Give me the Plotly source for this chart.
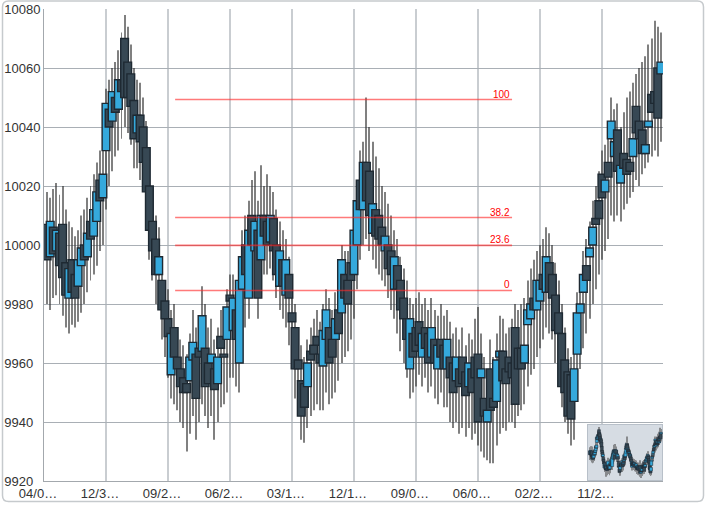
import plotly.graph_objects as go

# ---------------- data ----------------
opens = [10007, 9996, 10006, 9998, 10004, 10007, 9994, 9982, 9995, 9990,
         9986, 9993, 10000, 9996, 10008, 10003, 10008, 10022, 10016, 10032,
         10046, 10042, 10050, 10046, 10056, 10070, 10062, 10058, 10049, 10038,
         10044, 10040, 10033, 10020, 10008, 10002, 9990, 9988, 9981, 9975,
         9956, 9972, 9962, 9958, 9955, 9953, 9954, 9961, 9963, 9965,
         9964, 9965, 9960, 9960, 9958, 9953, 9969, 9963, 9968, 9983,
         9971, 9978, 9960, 9985, 10000, 9982, 10010, 9998, 10005, 9995,
         10010, 10008, 10001, 10009, 10000, 9986, 9995, 9983, 9990, 9977,
         9972, 9961, 9954, 9953, 9952, 9964, 9966, 9969, 9963, 9959,
         9968, 9972, 9968, 9968, 9978, 9977, 9990, 9988, 9994, 9990,
         10000, 10022, 10012, 10028, 10025, 10004, 10012, 10010, 10006, 9998,
         10000, 9998, 9985, 9993, 9988, 9982, 9975, 9958, 9970, 9972,
         9974, 9962, 9972, 9970, 9962, 9968, 9958, 9968, 9966, 9958,
         9962, 9960, 9954, 9958, 9962, 9957, 9952, 9958, 9962, 9963,
         9955, 9948, 9940, 9958, 9948, 9947, 9962, 9964, 9958, 9962,
         9960, 9972, 9965, 9965, 9960, 9973, 9975, 9982, 9978, 9981,
         9990, 9984, 9994, 9990, 9983, 9977, 9970, 9961, 9957, 9956,
         9947, 9963, 9977, 9984, 9993, 9996, 10000, 10009, 10015, 10024,
         10018, 10028, 10036, 10030, 10039, 10021, 10031, 10029, 10028, 10030,
         10047, 10042, 10039, 10031, 10040, 10051, 10052, 10060, 10058]
highs = [10018, 10016, 10019, 10021, 10017, 10020, 10012, 10008, 10006, 10003,
         10005, 10010, 10012, 10016, 10020, 10024, 10028, 10032, 10036, 10053,
         10056, 10060, 10062, 10066, 10072, 10078, 10074, 10068, 10060, 10056,
         10055, 10050, 10042, 10028, 10015, 10010, 10006, 9995, 9988, 9985,
         9978, 9980, 9972, 9968, 9966, 9963, 9970, 9978, 9972, 9975,
         9986, 9980, 9972, 9975, 9968, 9972, 9978, 9976, 9985, 9990,
         9990, 9988, 9995, 10005, 10010, 10015, 10022, 10025, 10015, 10027,
         10020, 10024, 10020, 10018, 10012, 10008, 10005, 10002, 9996, 9985,
         9980, 9972, 9966, 9962, 9968, 9972, 9975, 9978, 9974, 9980,
         9985, 9982, 9978, 9984, 9986, 10000, 9998, 9998, 10002, 10012,
         10022, 10032, 10035, 10050, 10040, 10035, 10030, 10026, 10020, 10018,
         10014, 10010, 10005, 10002, 9996, 9992, 9988, 9982, 9980, 9982,
         9984, 9980, 9982, 9978, 9982, 9978, 9976, 9980, 9976, 9978,
         9974, 9970, 9972, 9968, 9972, 9966, 9970, 9968, 9975, 9979,
         9970, 9962, 9958, 9968, 9962, 9970, 9976, 9975, 9970, 9972,
         9975, 9980, 9978, 9980, 9982, 9988, 9992, 9995, 9998, 10000,
         10002, 10006, 10004, 10000, 9994, 9988, 9980, 9972, 9965, 9962,
         9966, 9984, 9990, 9998, 10002, 10008, 10015, 10020, 10025, 10032,
         10034, 10038, 10050, 10046, 10048, 10040, 10045, 10050, 10052, 10055,
         10058, 10060, 10062, 10064, 10068, 10070, 10076, 10074, 10072]
lows = [9980, 9978, 9982, 9983, 9980, 9976, 9972, 9970, 9973, 9972,
        9974, 9977, 9980, 9984, 9988, 9990, 9993, 9998, 10000, 10012,
        10020, 10025, 10030, 10032, 10036, 10040, 10038, 10034, 10026, 10026,
        10022, 10018, 10008, 9995, 9988, 9980, 9978, 9968, 9962, 9955,
        9948, 9946, 9944, 9940, 9938, 9930, 9936, 9942, 9934, 9940,
        9946, 9942, 9938, 9942, 9934, 9940, 9945, 9946, 9950, 9955,
        9955, 9952, 9950, 9968, 9972, 9975, 9985, 9988, 9975, 9988,
        9990, 9990, 9992, 9988, 9982, 9978, 9975, 9972, 9966, 9958,
        9948, 9944, 9934, 9933, 9938, 9942, 9944, 9946, 9944, 9944,
        9950, 9946, 9948, 9950, 9954, 9960, 9962, 9964, 9968, 9975,
        9985, 9995, 10000, 10002, 9998, 9995, 9992, 9990, 9988, 9986,
        9982, 9978, 9975, 9970, 9964, 9960, 9955, 9948, 9950, 9952,
        9956, 9952, 9955, 9950, 9952, 9948, 9946, 9950, 9945, 9945,
        9940, 9938, 9940, 9936, 9938, 9935, 9938, 9934, 9936, 9932,
        9930, 9928, 9927, 9926, 9926, 9932, 9936, 9938, 9937, 9940,
        9940, 9938, 9942, 9944, 9946, 9952, 9956, 9958, 9962, 9965,
        9968, 9972, 9970, 9968, 9960, 9956, 9945, 9940, 9936, 9932,
        9934, 9948, 9958, 9965, 9970, 9975, 9980, 9985, 9990, 9995,
        9998, 10002, 10010, 10008, 10010, 10008, 10012, 10014, 10016, 10018,
        10022, 10020, 10024, 10026, 10028, 10030, 10032, 10030, 10035]
closes = [9995, 10008, 9997, 10005, 9993, 9989, 9983, 9992, 9984, 9982,
          9995, 9999, 9995, 10004, 10002, 10012, 10018, 10015, 10024, 10048,
          10040, 10052, 10045, 10056, 10052, 10050, 10050, 10047, 10036, 10044,
          10035, 10028, 10018, 10005, 9998, 9990, 9996, 9978, 9975, 9969,
          9970, 9962, 9958, 9952, 9950, 9950, 9962, 9967, 9948, 9962,
          9976, 9952, 9953, 9963, 9951, 9962, 9965, 9962, 9979, 9981,
          9982, 9968, 9988, 9996, 9990, 10005, 10000, 10008, 9982, 10010,
          10003, 10000, 10010, 9998, 9990, 9998, 9986, 9995, 9982, 9974,
          9958, 9958, 9942, 9945, 9960, 9961, 9963, 9966, 9960, 9971,
          9978, 9960, 9962, 9975, 9970, 9995, 9982, 9980, 9988, 10005,
          10015, 10012, 10028, 10015, 10010, 10014, 10003, 10002, 10000, 10003,
          9992, 9990, 9996, 9985, 9978, 9975, 9968, 9975, 9962, 9964,
          9966, 9970, 9965, 9960, 9972, 9960, 9966, 9962, 9958, 9968,
          9955, 9950, 9962, 9952, 9953, 9949, 9960, 9950, 9955, 9940,
          9958, 9942, 9944, 9944, 9945, 9961, 9964, 9954, 9953, 9957,
          9955, 9946, 9958, 9958, 9966, 9978, 9980, 9978, 9988, 9988,
          9985, 9996, 9984, 9982, 9971, 9970, 9952, 9950, 9942, 9941,
          9958, 9977, 9980, 9990, 9988, 9999, 10006, 10007, 10009, 10016,
          10022, 10023, 10042, 10035, 10025, 10027, 10026, 10024, 10025, 10036,
          10038, 10036, 10031, 10034, 10042, 10045, 10048, 10043, 10062]

tick_labels = ["04/0…", "12/3…", "09/2…", "06/2…", "03/1…",
               "12/1…", "09/0…", "06/0…", "02/2…", "11/2…"]
tick_positions = [0, 20, 40, 60, 80, 100, 120, 140, 160, 180]
y_ticks = [9920, 9940, 9960, 9980, 10000, 10020, 10040, 10060, 10080]

fib_levels = [0, 23.6, 38.2, 100]
fib_low = 9984.6
fib_high = 10049.3
fib_start = 42.3
fib_end = 151.0

# ---------------- styling ----------------
W, H = 707, 505
ML, MR, MT, MB = 44, 44, 9, 24
BLUE = "#35a9dc"
DARK = "#374854"
EDGE = "#1e2932"
FONT = "Liberation Sans, Arial, sans-serif"

n = len(closes)
idx = list(range(1, n + 1))
bases = [min(o, c) for o, c in zip(opens, closes)]
sizes = [max(abs(c - o), 0.6) for o, c in zip(opens, closes)]
colors = [BLUE if c > o else DARK for o, c in zip(opens, closes)]
wick_len = [h - l for h, l in zip(highs, lows)]

X2R = [-7.4, 204.6]
Y2R = [9917, 10087]

fig = go.Figure()

# main candles: wicks (drawn first, below bodies) then bodies
fig.add_trace(go.Bar(x=idx, y=wick_len, base=lows, width=0.32,
                     marker=dict(color="#333333", line=dict(width=0)), opacity=0.62,
                     hoverinfo="skip", showlegend=False))
fig.add_trace(go.Bar(x=idx, y=sizes, base=bases, width=2.5,
                     marker=dict(color=colors, line=dict(color=EDGE, width=1.4)),
                     showlegend=False))

# fibonacci lines
for lv in fib_levels:
    val = fib_low + (fib_high - fib_low) * lv / 100.0
    fig.add_trace(go.Scatter(x=[fib_start, fib_end], y=[val, val], mode="lines",
                             line=dict(color="rgba(255,40,40,0.62)", width=1.6),
                             hoverinfo="skip", showlegend=False))
    lab = ("%g" % lv)
    fig.add_annotation(x=fib_end, y=val, text=lab, showarrow=False,
                       xanchor="right", yanchor="bottom", yshift=-2,
                       font=dict(family=FONT, size=10, color="#ff0000"))

# navigator (mini chart)
fig.add_trace(go.Bar(x=idx, y=wick_len, base=lows, width=1.6,
                     marker=dict(color="#555555", line=dict(width=0)), opacity=0.6,
                     xaxis="x2", yaxis="y2", hoverinfo="skip", showlegend=False))
fig.add_trace(go.Bar(x=idx, y=sizes, base=bases, width=8.0,
                     marker=dict(color=colors, line=dict(color=EDGE, width=0.5)),
                     xaxis="x2", yaxis="y2", showlegend=False))
# navigator panel, drawn in the mini subplot under its marks
fig.add_shape(type="rect", xref="x2", yref="y2",
              x0=X2R[0], x1=X2R[1], y0=Y2R[0], y1=Y2R[1],
              fillcolor="#d6dce3", line=dict(color="#b8c0c9", width=2), layer="below")

pw = W - ML - MR
ph = H - MT - MB
def px(xp):
    return (xp - ML) / pw
def py(yp):
    return (H - MB - yp) / ph

nav_x0, nav_x1 = px(587), px(663)
nav_y0, nav_y1 = py(481), py(424)

# outer rounded frame
bx0, bx1, byt, byb, r = 2.5, 703.5, 1.0, 501.5, 6
path = (f"M {px(bx0 + r)},{py(byt)} L {px(bx1 - r)},{py(byt)} "
        f"Q {px(bx1)},{py(byt)} {px(bx1)},{py(byt + r)} "
        f"L {px(bx1)},{py(byb - r)} Q {px(bx1)},{py(byb)} {px(bx1 - r)},{py(byb)} "
        f"L {px(bx0 + r)},{py(byb)} Q {px(bx0)},{py(byb)} {px(bx0)},{py(byb - r)} "
        f"L {px(bx0)},{py(byt + r)} Q {px(bx0)},{py(byt)} {px(bx0 + r)},{py(byt)} Z")
fig.add_shape(type="path", xref="paper", yref="paper", path=path,
              line=dict(color="#c6cacd", width=1.5), layer="above")

y_text = [("%d" % v) + ("\u00a0\u00a0" if v < 10000 else "") for v in y_ticks]

fig.update_layout(
    width=W, height=H,
    margin=dict(l=ML, r=MR, t=MT, b=MB, autoexpand=False),
    paper_bgcolor="white", plot_bgcolor="white",
    barmode="overlay",
    font=dict(family=FONT, size=13, color="#333333"),
    xaxis=dict(range=[0, 199.7], tickmode="array", tickvals=tick_positions,
               ticktext=tick_labels, showgrid=True, gridcolor="#c9cdd1", gridwidth=2,
               showline=True, linecolor="#a3a8ad", linewidth=1, zeroline=False,
               ticks="", ticklabelshift=-6, tickfont=dict(size=13, color="#333333"),
               automargin=False, fixedrange=True),
    yaxis=dict(range=[9920, 10080], tickmode="array", tickvals=y_ticks, ticktext=y_text,
               showgrid=True, gridcolor="#a9afb5", gridwidth=1,
               showline=True, linecolor="#a3a8ad", linewidth=1, zeroline=False,
               ticks="", tickfont=dict(size=13, color="#333333"),
               automargin=False, fixedrange=True),
    xaxis2=dict(domain=[nav_x0, nav_x1], anchor="y2", range=X2R, visible=False,
                fixedrange=True),
    yaxis2=dict(domain=[nav_y0, nav_y1], anchor="x2", range=Y2R, visible=False,
                fixedrange=True),
)

fig.write_html("out.html", config={"displayModeBar": False},
               post_script="document.body.style.margin='0';document.body.style.padding='0';")
